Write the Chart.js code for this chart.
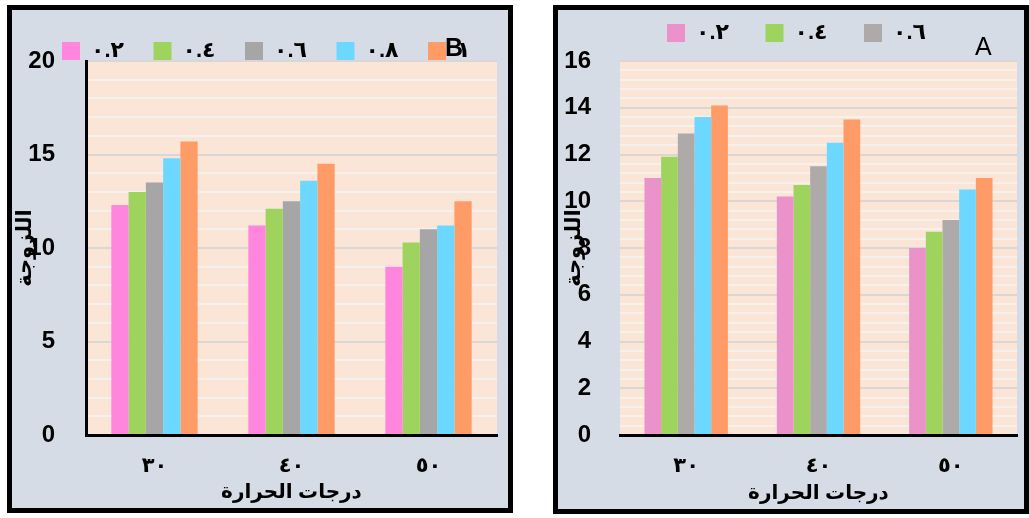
<!DOCTYPE html>
<html>
<head>
<meta charset="utf-8">
<script src="https://cdn.jsdelivr.net/npm/chart.js@4.4.1/dist/chart.umd.min.js"></script>
<style>
  body { margin: 0; background: #ffffff; width: 1029px; height: 518px; position: relative; overflow: hidden; }
  .panel { position: absolute; box-sizing: border-box; border: 5px solid #000; background: #D6DCE5; }
  #panelB { left: 7px; top: 5px; width: 506px; height: 508px; }
  #panelA { left: 553px; top: 5px; width: 476px; height: 509px; }
  .panel canvas { position: absolute; left: 0; top: 0; }
</style>
</head>
<body>
<div class="panel" id="panelB"><canvas id="chartB"></canvas></div>
<div class="panel" id="panelA"><canvas id="chartA"></canvas></div>
<script>
// temperatures (x categories) and concentration labels
const temps = ['٣٠', '٤٠', '٥٠'];
const concLabels = ['٠.٢', '٠.٤', '٠.٦', '٠.٨', '١'];
const xTitle = 'درجات الحرارة';
const yTitle = 'اللزوجة';

// panel B values, one array per concentration
const b02 = [12.3, 11.2, 9.0];
const b04 = [13.0, 12.1, 10.3];
const b06 = [13.5, 12.5, 11.0];
const b08 = [14.8, 13.6, 11.2];
const b10 = [15.7, 14.5, 12.5];

// panel A values
const a02 = [11.0, 10.2, 8.0];
const a04 = [11.9, 10.7, 8.7];
const a06 = [12.9, 11.5, 9.2];
const a08 = [13.6, 12.5, 10.5];
const a10 = [14.1, 13.5, 11.0];

const colorsB = ['#FF85DD', '#9ED45E', '#A6A6A6', '#6DD8FF', '#FF9B66'];
const colorsA = ['#EB92CB', '#9ED45E', '#AEAAAA', '#6DD8FF', '#FF9B66'];

const FONT = '"Liberation Sans", "DejaVu Sans", sans-serif';

// peach plot background + custom legend + panel letter
const panelPlugin = {
    id: 'panelDeco',
    beforeDraw(chart, args, opts) {
        const a = chart.chartArea;
        const ctx = chart.ctx;
        ctx.save();
        ctx.fillStyle = '#FBE5D6';
        ctx.fillRect(a.left, a.top, a.right - a.left, a.bottom - a.top);
        ctx.restore();
    },
    afterDraw(chart, args, opts) {
        const ctx = chart.ctx;
        ctx.save();
        ctx.font = 'bold 22px ' + FONT;
        ctx.letterSpacing = '2px';
        ctx.textBaseline = 'middle';
        ctx.textAlign = 'left';
        chart.data.datasets.slice(0, opts.count).forEach(function(ds, i) {
            const x = opts.x + i * opts.step;
            ctx.fillStyle = ds.backgroundColor;
            ctx.fillRect(x, opts.y - 9, 18, 18);
            ctx.fillStyle = '#000';
            ctx.fillText(ds.label, x + 29, opts.y);
        });
        ctx.letterSpacing = '0px';
        ctx.font = opts.letterFont;
        ctx.fillStyle = '#000';
        ctx.fillText(opts.letter, opts.letterX, opts.letterY);
        ctx.restore();
    }
};

function makeDatasets(series, colors) {
    return series.map(function(values, i) {
        return {
            label: concLabels[i],
            data: values,
            backgroundColor: colors[i],
            borderWidth: 0,
            barPercentage: 1.0,
            categoryPercentage: 0.63
        };
    });
}

function makeChart(id, w, h, series, colors, yc, deco) {
    const cv = document.getElementById(id);
    cv.width = w; cv.height = h;
    cv.style.width = w + 'px'; cv.style.height = h + 'px';

    const isMajor = function(v) { return Math.abs(v / yc.major - Math.round(v / yc.major)) < 1e-6; };

    new Chart(cv, {
        type: 'bar',
        data: { labels: temps, datasets: makeDatasets(series, colors) },
        options: {
            responsive: false,
            animation: false,
            layout: { padding: { left: 0, right: yc.padRight, top: 51, bottom: 0 } },
            plugins: {
                legend: { display: false },
                tooltip: { enabled: false },
                panelDeco: deco
            },
            scales: {
                x: {
                    grid: { display: false, drawTicks: false },
                    border: { color: '#000', width: 3 },
                    ticks: { color: '#000', padding: 19, font: { family: FONT, size: 21, weight: 'bold' } },
                    title: {
                        display: true, text: xTitle, color: '#000',
                        font: { family: FONT, size: 20, weight: 'bold' },
                        padding: { top: 0, bottom: 4 }
                    },
                    afterFit: function(s) { s.height = yc.xHeight; }
                },
                y: {
                    min: 0,
                    max: yc.max,
                    grid: {
                        drawTicks: false,
                        lineWidth: 2,
                        color: function(c) { return isMajor(c.tick.value) ? '#D9D6D3' : '#F4F1EF'; }
                    },
                    border: { display: yc.showBorder, color: '#000', width: 3 },
                    ticks: {
                        stepSize: yc.minor,
                        maxTicksLimit: 100,
                        autoSkip: false,
                        padding: yc.tickPad,
                        color: '#000',
                        font: { family: FONT, size: 24, weight: 'bold' },
                        callback: function(v) { return isMajor(v) ? String(Math.round(v)) : ''; }
                    },
                    title: {
                        display: true, text: yTitle, color: '#000',
                        font: { family: FONT, size: 21, weight: 'bold' },
                        padding: { top: yc.titlePad, bottom: 0 }
                    },
                    afterFit: function(s) { s.width = yc.yWidth; }
                }
            }
        },
        plugins: [panelPlugin]
    });
}

makeChart('chartB', 496, 498, [b02, b04, b06, b08, b10], colorsB,
    { max: 20, minor: 1, major: 5, padRight: 11, xHeight: 73, yWidth: 74, tickPad: 31, titlePad: 1, showBorder: true },
    { count: 5, x: 50, y: 41, step: 91.5, letter: 'B', letterX: 433, letterY: 39,
      letterFont: 'bold 25px ' + FONT });

makeChart('chartA', 466, 499, [a02, a04, a06, a08, a10], colorsA,
    { max: 16, minor: 0.4, major: 2, padRight: 7, xHeight: 74, yWidth: 62, tickPad: 29, titlePad: 4, showBorder: false },
    { count: 3, x: 109, y: 23, step: 98.5, letter: 'A', letterX: 417, letterY: 38,
      letterFont: '25px ' + FONT });
</script>
</body>
</html>
